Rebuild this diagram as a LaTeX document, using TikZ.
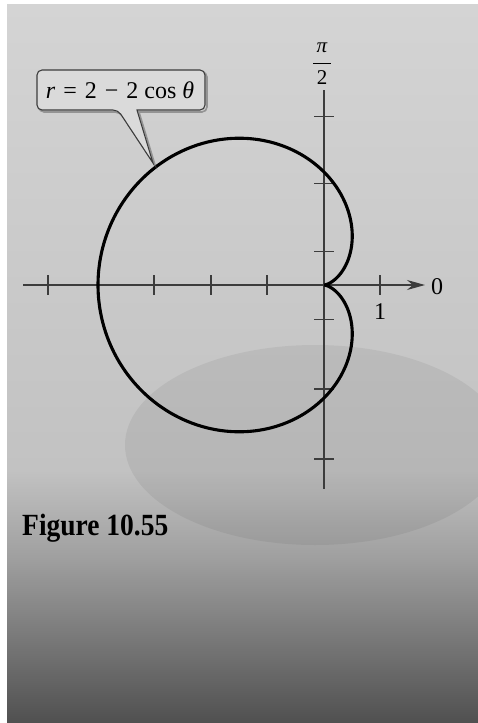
\documentclass[tikz,border=0pt]{standalone}
\usepackage{fontspec}
\setmainfont{Liberation Serif}
\usetikzlibrary{arrows.meta}
\definecolor{axisgray}{HTML}{3C3C3C}
\definecolor{bgA}{HTML}{D4D4D4}
\definecolor{bgB}{HTML}{C2C2C2}
\definecolor{bgC}{HTML}{9E9E9E}
\definecolor{bgD}{HTML}{505050}
\definecolor{boxfill}{HTML}{DADADA}
\begin{document}
\begin{tikzpicture}[x=1pt,y=-1pt,
  axisline/.style={draw=axisgray,line width=1.2pt},
  tickmark/.style={draw=axisgray,line width=1.2pt},
  curve/.style={draw=black,line width=3.1pt},
  lbl/.style={inner sep=0pt,font=\fontsize{24}{27}\selectfont},
  small/.style={inner sep=0pt,font=\fontsize{21}{23}\selectfont}]
\useasboundingbox (0,0) rectangle (478,723);
% paper background
\shade[top color=bgA,bottom color=bgB] (7,4) rectangle (478,471);
\shade[top color=bgB,bottom color=bgC] (7,470) rectangle (478,561);
\shade[top color=bgC,bottom color=bgD] (7,560) rectangle (478,723);
\fill[black,opacity=0.06] (315,445) ellipse [x radius=190,y radius=100];
% axes
\coordinate (xl) at (23,285);
\coordinate (xr) at (425,285);
\coordinate (yt) at (324,90);
\coordinate (yb) at (324,489);
\coordinate (O) at (324,285);
\draw[axisline] (yt) -- (yb);
\draw[axisline,-{Stealth[length=18pt,width=10pt]}] (xl) -- (xr);
\foreach \t in {48,98,154,211,267,380}
  \draw[tickmark] (\t,275) -- (\t,295);
\foreach \t in {116.7,183.3,251.3,319.3,389,459}
  \draw[tickmark] (314,\t) -- (334,\t);
% cardioid
\draw[curve] plot[domain=0:360,samples=241,smooth]
  ({324+56.5*(2-2*cos(\x))*cos(\x)},{285-56.5*(2-2*cos(\x))*sin(\x)});
% labels
\node[lbl] (zero) at (437,287) {0};
\node[lbl] (one) at (380,312) {1};
\node[small] (pi) at (322,48) {\textit{π}};
\node[small] (two) at (322,78) {2};
\draw[black,line width=1pt] (313,63) -- (331,63);
% callout
\draw[gray!70!black,line width=1.6pt,opacity=0.5] (155,165) -- (139,112)
  [rounded corners=5pt] -- (207,112) -- (207,72) -- (39,72) -- (39,112) -- (120,112) [sharp corners] -- cycle;
\filldraw[fill=boxfill,draw=axisgray,line width=1.1pt] (153,163) -- (137,110)
  [rounded corners=5pt] -- (205,110) -- (205,70) -- (37,70) -- (37,110) -- (118,110) [sharp corners] -- cycle;
\node[lbl] (eq) at (120,90) {\textit{r}\,\,=\,\,2\,\,−\,\,2 cos \textit{θ}};
% caption
\node[inner sep=0pt,anchor=west,font=\fontsize{27.5}{30}\selectfont\bfseries] (fig) at (22,528) {\scalebox{1}[1.12]{Figure 10.55}};
\end{tikzpicture}
\end{document}
